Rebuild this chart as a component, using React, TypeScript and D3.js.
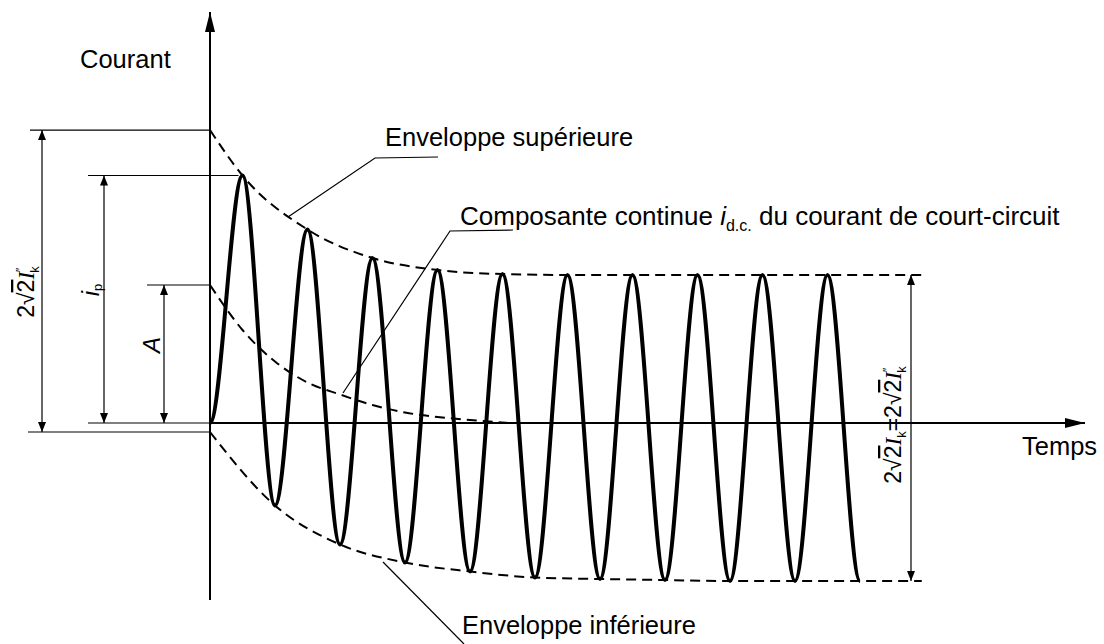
import React from 'react';
import * as d3 from 'd3';

const W = 1104;
const H = 644;

// time in periods of the AC wave; current in units of the steady AC amplitude
const peakTimes = [0.5, 1.5, 2.5, 3.5, 4.5, 5.5, 6.5, 7.5, 8.5, 9.5];
const peakValues = [1.65, 1.29, 1.1, 1.02, 0.993, 0.987, 0.987, 0.987, 0.987, 0.987];
const troughTimes = [1, 2, 3, 4, 5, 6, 7, 8, 9, 10];
const troughValues = [-0.55, -0.81, -0.93, -0.99, -1.03, -1.04, -1.047, -1.053, -1.053, -1.053];
const upperEnvT = [0, 0.5, 1.5, 2.5, 3.5, 4.5, 5.5, 7, 9, 10.95];
const upperEnvV = [1.953, 1.65, 1.29, 1.1, 1.02, 0.993, 0.987, 0.987, 0.987, 0.987];
const lowerEnvT = [0, 1, 2, 3, 4, 5, 6, 7, 8, 10.95];
const lowerEnvV = [-0.06, -0.55, -0.81, -0.93, -0.99, -1.03, -1.04, -1.047, -1.053, -1.053];
const dcT = [0, 0.5, 1, 1.5, 2, 2.5, 3, 3.5, 4, 4.6];
const dcV = [0.92, 0.62, 0.41, 0.27, 0.19, 0.12, 0.07, 0.04, 0.02, 0.0];

const SANS = '"Liberation Sans", Arial, sans-serif';
const SERIF = '"Liberation Serif", "Times New Roman", serif';

export default function App() {
  const x = d3.scaleLinear().domain([0, 10]).range([210, 860]);
  const y = d3.scaleLinear().domain([0, 1]).range([423, 273]);

  // wave: start at 0, then alternating extrema, joined by zero-slope cubic segments
  const ext: [number, number][] = [[0, 0]];
  peakTimes.forEach((t, i) => {
    ext.push([t, peakValues[i]]);
    ext.push([troughTimes[i], troughValues[i]]);
  });
  ext.sort((a, b) => a[0] - b[0]);
  const p = d3.path();
  p.moveTo(x(ext[0][0]), y(ext[0][1]));
  for (let i = 1; i < ext.length; i++) {
    const x0 = x(ext[i - 1][0]), y0 = y(ext[i - 1][1]);
    const x1 = x(ext[i][0]), y1 = y(ext[i][1]);
    const h = x1 - x0;
    p.bezierCurveTo(x0 + h / 3, y0, x1 - h / 3, y1, x1, y1);
  }
  const wave = p.toString();

  const line = d3
    .line<[number, number]>()
    .x((d) => x(d[0]))
    .y((d) => y(d[1]))
    .curve(d3.curveMonotoneX);
  const upper = line(upperEnvT.map((t, i) => [t, upperEnvV[i]] as [number, number])) || '';
  const lower = line(lowerEnvT.map((t, i) => [t, lowerEnvV[i]] as [number, number])) || '';
  const dc = line(dcT.map((t, i) => [t, dcV[i]] as [number, number])) || '';

  const x0 = x(0);
  const yTop0 = y(upperEnvV[0]);
  const yBot0 = y(lowerEnvV[0]);
  const yPeak = y(peakValues[0]);
  const yDc0 = y(dcV[0]);
  const yZero = y(0);
  const yUpEnd = y(upperEnvV[upperEnvV.length - 1]);
  const yLoEnd = y(lowerEnvV[lowerEnvV.length - 1]);

  const thin = { stroke: '#000', strokeWidth: 1.2, fill: 'none' } as const;

  const dim = (xx: number, ya: number, yb: number, key: string) => (
    <line key={key} x1={xx} x2={xx} y1={ya} y2={yb} stroke="#000" strokeWidth={1.2}
      markerStart="url(#dimArrow)" markerEnd="url(#dimArrow)" />
  );

  const sqrt2 = (k: string) => [
    <tspan key={k + 'a'}>2√</tspan>,
    <tspan key={k + 'b'} style={{ textDecoration: 'overline' }}>2</tspan>,
  ];

  return (
    <svg width={W} height={H} viewBox={`0 0 ${W} ${H}`}
      style={{ position: 'absolute', left: 0, top: 0, background: '#fff' }}>
      <defs>
        <marker id="dimArrow" viewBox="0 0 10 8" refX="10" refY="4" markerWidth="10" markerHeight="8"
          markerUnits="userSpaceOnUse" orient="auto-start-reverse">
          <path d="M0,0 L10,4 L0,8 Z" fill="#000" />
        </marker>
        <marker id="axArrow" viewBox="0 0 20 10" refX="20" refY="5" markerWidth="20" markerHeight="10"
          markerUnits="userSpaceOnUse" orient="auto">
          <path d="M0,0 L20,5 L0,10 Z" fill="#000" />
        </marker>
      </defs>
      <rect width={W} height={H} fill="#fff" />

      {/* axes */}
      <line x1={x0} x2={x0} y1={600} y2={12} stroke="#000" strokeWidth={2} markerEnd="url(#axArrow)" />
      <line x1={x0} x2={1085} y1={yZero} y2={yZero} stroke="#000" strokeWidth={1.8} markerEnd="url(#axArrow)" />

      {/* extension lines */}
      <line x1={30} x2={x0} y1={yTop0} y2={yTop0} {...thin} />
      <line x1={28} x2={x0} y1={yBot0} y2={yBot0} {...thin} />
      <line x1={88} x2={x(peakTimes[0]) - 4} y1={yPeak} y2={yPeak} {...thin} />
      <line x1={88} x2={x0} y1={yZero} y2={yZero} {...thin} />
      <line x1={147} x2={x0} y1={yDc0} y2={yDc0} {...thin} />

      {/* dimension arrows */}
      {dim(42, yTop0, yBot0, 'd1')}
      {dim(104, yPeak, yZero, 'd2')}
      {dim(164, yDc0, yZero, 'd3')}
      {dim(911, yUpEnd, yLoEnd, 'd4')}

      {/* envelopes and dc component */}
      <path d={upper} fill="none" stroke="#000" strokeWidth={2} strokeDasharray="10 6" />
      <path d={lower} fill="none" stroke="#000" strokeWidth={2} strokeDasharray="10 6" />
      <path d={dc} fill="none" stroke="#000" strokeWidth={2} strokeDasharray="10 6" />

      {/* current */}
      <path d={wave} fill="none" stroke="#000" strokeWidth={4} strokeLinejoin="round" />

      {/* leaders */}
      <polyline points="288,217 375,158 438,157" {...thin} />
      <polyline points="343,393 450,231 513,230" {...thin} />
      <polyline points="383,562 464,644" {...thin} />

      <g fontFamily={SANS} fontSize={25.5} fill="#000">
        <text x={80} y={68}>Courant</text>
        <text x={1022} y={455}>Temps</text>
        <text x={385} y={146}>Enveloppe supérieure</text>
        <text x={460} y={225} fontSize={26}>
          Composante continue{' '}
          <tspan fontStyle="italic">i</tspan>
          <tspan fontSize={16} dy={6}>d.c.</tspan>
          <tspan dy={-6}> du courant de court-circuit</tspan>
        </text>
        <text x={462} y={634}>Enveloppe inférieure</text>
      </g>

      {/* rotated dimension labels */}
      <text transform="translate(34,292) rotate(-90)" textAnchor="middle" fontFamily={SANS} fontSize={23}>
        {sqrt2('l')}
        <tspan fontFamily={SERIF} fontStyle="italic">I</tspan>
        <tspan fontSize={12} dy={-9}>″</tspan>
        <tspan fontSize={13} dx={-5} dy={14}>k</tspan>
      </text>
      <text transform="translate(99,290) rotate(-90)" textAnchor="middle" fontFamily={SANS} fontSize={24}>
        <tspan fontStyle="italic">i</tspan>
        <tspan fontSize={13} dy={3}>p</tspan>
      </text>
      <text transform="translate(160,345) rotate(-90)" textAnchor="middle" fontFamily={SANS} fontSize={24} fontStyle="italic">
        A
      </text>
      <text transform="translate(901,425) rotate(-90)" textAnchor="middle" fontFamily={SANS} fontSize={23}>
        {sqrt2('r1')}
        <tspan fontFamily={SERIF} fontStyle="italic">I</tspan>
        <tspan fontSize={13} dy={5}>k</tspan>
        <tspan dy={-5}>=</tspan>
        {sqrt2('r2')}
        <tspan fontFamily={SERIF} fontStyle="italic">I</tspan>
        <tspan fontSize={12} dy={-9}>″</tspan>
        <tspan fontSize={13} dx={-5} dy={14}>k</tspan>
      </text>
    </svg>
  );
}
